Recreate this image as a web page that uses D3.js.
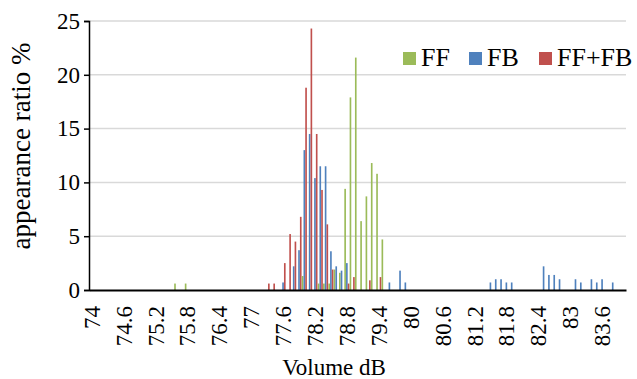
<!DOCTYPE html>
<html>
<head>
<meta charset="utf-8">
<script src="https://cdn.jsdelivr.net/npm/d3@7"></script>
<style>
  body { margin: 0; background: #fff; }
  svg text { font-family: "Liberation Serif", "Times New Roman", serif; fill: #000; }
</style>
</head>
<body>
<div id="chart"></div>
<script>
// volume categories, 0.1 dB steps
const volumes = d3.range(740, 841).map(d => d / 10);
const seriesNames = ['FF', 'FB', 'FF+FB'];
const seriesColors = ['#9bbb59', '#4f81bd', '#c0504d'];
const yTicks = [0, 5, 10, 15, 20, 25];

// [volume dB, appearance ratio %], other volumes are 0
const ffValues = [
    [75.6, 0.6], [75.8, 0.6], [78.0, 1.3], [78.3, 0.6], [78.4, 0.6], [78.5, 0.6],
    [78.6, 1.9], [78.7, 1.6], [78.8, 9.4], [78.9, 17.9], [79.0, 21.6], [79.1, 6.4],
    [79.2, 8.7], [79.3, 11.8], [79.4, 10.8], [79.5, 4.7]
];
const fbValues = [
    [77.6, 0.7], [77.8, 2.2], [77.9, 3.7], [78.0, 13.0], [78.1, 14.5], [78.2, 10.4],
    [78.3, 11.5], [78.4, 11.5], [78.5, 3.6], [78.6, 2.2], [78.7, 1.8], [78.8, 2.5],
    [79.6, 0.7], [79.8, 1.8], [79.9, 0.7], [81.5, 0.7], [81.6, 1.0], [81.7, 1.0],
    [81.8, 0.7], [81.9, 0.7], [82.5, 2.2], [82.6, 1.4], [82.7, 1.4], [82.8, 1.0],
    [83.1, 1.0], [83.2, 0.7], [83.4, 1.0], [83.5, 0.7], [83.6, 1.0], [83.8, 0.7]
];
const ffFbValues = [
    [77.3, 0.6], [77.4, 0.6], [77.6, 2.5], [77.7, 5.2], [77.8, 4.5], [77.9, 6.8],
    [78.0, 18.8], [78.1, 24.3], [78.2, 14.5], [78.3, 9.3], [78.4, 6.1], [78.5, 1.9],
    [78.8, 0.6], [78.9, 1.2], [79.2, 0.9], [79.4, 1.2]
];

const width = 637, height = 379;
const margin = { top: 21, right: 11, bottom: 89, left: 89 };
const serif = '"Liberation Serif", "Times New Roman", serif';

const svg = d3.select('#chart').append('svg')
    .attr('width', width)
    .attr('height', height);

// build rows: one per volume, one value per series
const key = v => v.toFixed(1);
const lookups = [ffValues, fbValues, ffFbValues].map(arr => new Map(arr.map(d => [key(d[0]), d[1]])));
const rows = volumes.map(v => ({
    volume: v,
    values: seriesNames.map((s, i) => ({ series: s, color: seriesColors[i], value: lookups[i].get(key(v)) || 0 }))
}));

const x = d3.scaleBand()
    .domain(volumes.map(key))
    .range([margin.left, width - margin.right])
    .paddingInner(0.04)
    .paddingOuter(0.02);
const xSub = d3.scaleBand()
    .domain(seriesNames)
    .range([0, x.bandwidth()])
    .paddingInner(0.05);
const y = d3.scaleLinear()
    .domain([0, 25])
    .range([height - margin.bottom, margin.top]);

// gridlines
svg.append('g')
    .selectAll('line')
    .data(yTicks.slice(1))
    .join('line')
    .attr('x1', margin.left)
    .attr('x2', width - margin.right)
    .attr('y1', d => y(d))
    .attr('y2', d => y(d))
    .attr('stroke', '#d9d9d9')
    .attr('stroke-width', 1.5);

// bars
svg.append('g')
    .selectAll('g')
    .data(rows)
    .join('g')
    .attr('transform', d => `translate(${x(key(d.volume))},0)`)
    .selectAll('rect')
    .data(d => d.values.filter(v => v.value > 0))
    .join('rect')
    .attr('x', d => xSub(d.series))
    .attr('width', xSub.bandwidth())
    .attr('y', d => y(d.value))
    .attr('height', d => y(0) - y(d.value))
    .attr('fill', d => d.color);

// y axis
const yAxis = svg.append('g')
    .attr('transform', `translate(${margin.left},0)`)
    .call(d3.axisLeft(y).tickValues(yTicks).tickSize(5).tickPadding(4));
yAxis.attr('font-family', serif);
yAxis.select('.domain').attr('stroke', '#000').attr('stroke-width', 1.5);
yAxis.selectAll('.tick line').attr('stroke', '#000').attr('stroke-width', 1.5);
yAxis.selectAll('.tick text')
    .attr('font-size', 23)
    .attr('fill', '#000');

// x axis
const xAxis = svg.append('g')
    .attr('transform', `translate(0,${y(0)})`)
    .call(d3.axisBottom(x)
        .tickValues(volumes.filter((v, i) => i % 6 === 0).map(key))
        .tickFormat(d => String(+d))
        .tickSize(0)
        .tickSizeOuter(0));
xAxis.attr('font-family', serif);
xAxis.select('.domain').attr('stroke', '#000').attr('stroke-width', 2);
xAxis.selectAll('.tick text')
    .attr('font-size', 23)
    .attr('fill', '#000')
    .attr('text-anchor', 'end')
    .attr('transform', 'translate(0,16) rotate(-90)')
    .attr('x', 0)
    .attr('y', 0)
    .attr('dy', '0.35em');

// axis titles
svg.append('text')
    .attr('x', 334)
    .attr('y', 375)
    .attr('text-anchor', 'middle')
    .attr('font-size', 23)
    .text('Volume dB');

svg.append('text')
    .attr('transform', 'translate(30,146) rotate(-90)')
    .attr('text-anchor', 'middle')
    .attr('font-size', 27)
    .text('appearance ratio %');

// legend
const legendX = [403, 469, 539];
const legend = svg.append('g')
    .selectAll('g')
    .data(seriesNames)
    .join('g')
    .attr('transform', (d, i) => `translate(${legendX[i]},52)`);
legend.append('rect')
    .attr('width', 13)
    .attr('height', 13)
    .attr('fill', (d, i) => seriesColors[i]);
legend.append('text')
    .attr('x', 18)
    .attr('y', 14)
    .attr('font-size', 26)
    .text(d => d);
</script>
</body>
</html>
